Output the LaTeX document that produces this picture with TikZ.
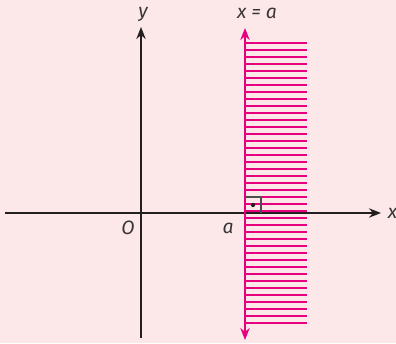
\documentclass[tikz,border=0pt]{standalone}
\usepackage{fontspec}
\setmainfont{Fira Sans}
\usepackage{tikz}
\usetikzlibrary{arrows.meta}
\usetikzlibrary{positioning}
\definecolor{bgpink}{HTML}{FCE8E9}
\definecolor{magline}{HTML}{E6007E}
\definecolor{axisblack}{HTML}{231F20}
\tikzset{
  axisline/.style={draw=axisblack, line width=1.8pt},
  strip/.style={draw=magline, line width=1.8pt},
  lbl/.style={inner sep=0pt, font=\itshape\fontsize{14.5}{16}\selectfont, text=axisblack!90}
}

\begin{document}
\begin{tikzpicture}[x=0.75pt,y=0.75pt]
      % background
      \fill[bgpink] (0,0) rectangle (396,343);
      \useasboundingbox (0,0) rectangle (396,343);

      % hatching
      \foreach \y in {0,...,40}
      \draw[strip] (245,300-7*\y) -- (307,300-7*\y);

      % axes
      \coordinate (xs) at (5,130);
      \coordinate (xe) at (381,130);
      \coordinate (ys) at (141,5);
      \coordinate (ye) at (141,316);
      \draw[axisline, -{Stealth[length=9pt,width=7pt]}] (xs) -- (xe);
      \draw[axisline, -{Stealth[length=9pt,width=7pt]}] (ys) -- (ye);
      \node[lbl, right=5pt of xe] (xlab) {x};
      \node[lbl] (ylab) at (143,329) {y};

      % line x = a
      \coordinate (ls) at (245,3);
      \coordinate (le) at (245,315);
      \draw[strip, {Stealth[length=9pt,width=7pt]}-{Stealth[length=9pt,width=7pt]}] (ls) -- (le);
      \node[lbl] (eqlab) at (257,330) {x = a};

      % origin and a
      \node[lbl] (olab) at (128,115) {O};
      \node[lbl] (alab) at (228,115) {a};

      % right angle mark
      \draw[axisblack!80, line width=0.9pt] (245,146) -- (261,146) -- (261,130);
      \fill[axisblack] (253,138) circle (1.6pt);
\end{tikzpicture}
\end{document}
